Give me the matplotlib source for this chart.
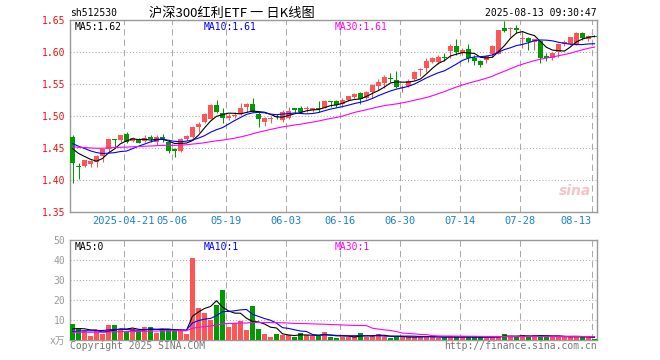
#Sina style daily K-line chart for 512530 with volume panel

import numpy as np
import pandas as pd
import matplotlib.pyplot as plt

plt.rcParams['font.family'] = ['DejaVu Sans Mono', 'Noto Sans CJK SC']

#date axis
date_labels = ['2025-04-21', '05-06', '05-19', '06-03', '06-16', '06-30', '07-14', '07-28', '08-13']
date_index = [9, 17, 26, 36, 45, 55, 65, 75, 87]

#candles (Apr 8 .. Aug 13)
opens = [1.4667, 1.4220, 1.4224, 1.4250, 1.4276, 1.4380, 1.4484, 1.4636, 1.4625, 1.4719,
         1.4615, 1.4640, 1.4615, 1.4677, 1.4599, 1.4677, 1.4589, 1.4484, 1.4458, 1.4641,
         1.4677, 1.4823, 1.4911, 1.4948, 1.5172, 1.5041, 1.4963, 1.5000, 1.5026, 1.5146,
         1.5182, 1.5026, 1.4911, 1.4953, 1.4995, 1.4938, 1.4974, 1.5125, 1.5125, 1.5104,
         1.5094, 1.5120, 1.5120, 1.5229, 1.5240, 1.5182, 1.5250, 1.5302, 1.5354, 1.5276,
         1.5370, 1.5469, 1.5511, 1.5589, 1.5563, 1.5443, 1.5469, 1.5578, 1.5719, 1.5745,
         1.5849, 1.5849, 1.5927, 1.6016, 1.6094, 1.5979, 1.6042, 1.5911, 1.5865, 1.5875,
         1.5964, 1.5964, 1.6380, 1.6360, 1.6380, 1.6203, 1.6214, 1.6161, 1.6172, 1.5940,
         1.5911, 1.5995, 1.6120, 1.6120, 1.6120, 1.6292, 1.6203, 1.6255]
highs = [1.4703, 1.4260, 1.4320, 1.4320, 1.4390, 1.4490, 1.4641, 1.4641, 1.4703, 1.4750,
         1.4667, 1.4651, 1.4703, 1.4703, 1.4703, 1.4719, 1.4599, 1.4495, 1.4651, 1.4703,
         1.4844, 1.4900, 1.5041, 1.5182, 1.5250, 1.5120, 1.5026, 1.5068, 1.5198, 1.5198,
         1.5276, 1.5057, 1.4990, 1.5005, 1.5026, 1.5094, 1.5146, 1.5125, 1.5156, 1.5161,
         1.5125, 1.5240, 1.5250, 1.5229, 1.5250, 1.5286, 1.5313, 1.5354, 1.5370, 1.5391,
         1.5500, 1.5573, 1.5641, 1.5667, 1.5708, 1.5484, 1.5573, 1.5708, 1.5745, 1.5911,
         1.5927, 1.5953, 1.5979, 1.6125, 1.6203, 1.6057, 1.6120, 1.5953, 1.5875, 1.5953,
         1.6110, 1.6344, 1.6484, 1.6396, 1.6422, 1.6328, 1.6240, 1.6198, 1.6188, 1.5990,
         1.6005, 1.6135, 1.6188, 1.6240, 1.6307, 1.6318, 1.6266, 1.6266]
lows = [1.3958, 1.4016, 1.4208, 1.4208, 1.4208, 1.4286, 1.4440, 1.4495, 1.4600, 1.4573,
        1.4600, 1.4573, 1.4600, 1.4600, 1.4547, 1.4599, 1.4417, 1.4365, 1.4443, 1.4625,
        1.4625, 1.4755, 1.4885, 1.4948, 1.5041, 1.4885, 1.4937, 1.4963, 1.5016, 1.5057,
        1.5057, 1.4833, 1.4849, 1.4885, 1.4953, 1.4911, 1.4953, 1.5042, 1.5041, 1.5057,
        1.5068, 1.5068, 1.5120, 1.5146, 1.5146, 1.5146, 1.5234, 1.5276, 1.5188, 1.5266,
        1.5276, 1.5406, 1.5432, 1.5536, 1.5432, 1.5370, 1.5458, 1.5562, 1.5630, 1.5693,
        1.5823, 1.5807, 1.5859, 1.5901, 1.5953, 1.5953, 1.5849, 1.5797, 1.5771, 1.5823,
        1.5927, 1.5964, 1.6318, 1.6229, 1.6292, 1.6057, 1.6031, 1.6031, 1.5833, 1.5859,
        1.5875, 1.5927, 1.6099, 1.6110, 1.6110, 1.6188, 1.6172, 1.6229]
closes = [1.4271, 1.4208, 1.4313, 1.4297, 1.4380, 1.4484, 1.4641, 1.4625, 1.4703, 1.4599,
          1.4650, 1.4583, 1.4650, 1.4636, 1.4667, 1.4636, 1.4458, 1.4458, 1.4641, 1.4693,
          1.4833, 1.4875, 1.5026, 1.5172, 1.5068, 1.4963, 1.4995, 1.5010, 1.5130, 1.5182,
          1.5068, 1.4953, 1.4963, 1.4963, 1.4979, 1.5057, 1.5078, 1.5094, 1.5057, 1.5120,
          1.5125, 1.5109, 1.5240, 1.5219, 1.5172, 1.5250, 1.5313, 1.5339, 1.5260, 1.5370,
          1.5484, 1.5537, 1.5615, 1.5573, 1.5460, 1.5458, 1.5547, 1.5693, 1.5734, 1.5859,
          1.5901, 1.5927, 1.5911, 1.6094, 1.5995, 1.6031, 1.5900, 1.5865, 1.5797, 1.5938,
          1.6094, 1.6344, 1.6328, 1.6370, 1.6344, 1.6208, 1.6161, 1.6198, 1.5900, 1.5900,
          1.5990, 1.6120, 1.6161, 1.6229, 1.6292, 1.6214, 1.6255, 1.6234]
#volume, 10k
volumes = [8.0, 5.8, 4.5, 2.0, 4.6, 3.1, 7.5, 7.5, 5.1, 4.2,
           5.6, 4.4, 6.4, 6.4, 3.5, 5.2, 5.4, 5.0, 5.0, 3.1,
           41.0, 16.0, 13.7, 10.0, 17.5, 25.0, 6.5, 8.3, 9.6, 5.0,
           17.0, 5.4, 3.0, 1.6, 3.0, 2.5, 2.5, 1.6, 3.4, 2.5,
           2.0, 2.0, 4.2, 1.3, 1.0, 1.7, 1.6, 1.8, 3.7, 1.7,
           1.8, 3.0, 1.7, 1.2, 1.3, 1.6, 1.7, 1.5, 1.7, 1.8,
           1.6, 1.2, 1.3, 1.8, 1.5, 1.6, 1.4, 1.3, 1.5, 1.6,
           1.7, 1.8, 3.2, 1.6, 1.4, 2.5, 1.5, 2.5, 2.5, 1.4,
           1.6, 1.7, 1.7, 1.6, 1.7, 1.3, 1.6, 0.5]

#earlier sessions (not drawn), estimated so the averages start where the lines start
prev_closes = [1.440, 1.445, 1.450, 1.452, 1.448, 1.446, 1.450, 1.455, 1.452, 1.449,
               1.447, 1.451, 1.454, 1.450, 1.448, 1.446, 1.449, 1.452, 1.453, 1.448,
               1.463, 1.466, 1.468, 1.464, 1.464, 1.458, 1.455, 1.452, 1.453]
prev_volumes = [3.5, 3.8, 3.2, 4.0, 3.6, 3.4, 3.9, 3.7, 3.3, 3.6,
                3.8, 3.5, 3.4, 3.9, 3.6, 3.7, 3.5, 3.8, 3.6, 3.2,
                2.8, 3.1, 2.6, 3.0, 3.0, 4.6, 5.2, 4.8, 4.9]

o = np.array(opens)
h = np.array(highs)
l = np.array(lows)
c = np.array(closes)
v = np.array(volumes)
x = np.arange(len(c))

s_close = pd.Series(prev_closes + closes)
s_vol = pd.Series(prev_volumes + volumes)
n_prev = len(prev_closes)
ma_price = {w: s_close.rolling(w).mean().values[n_prev:] for w in (5, 10, 30)}
ma_vol = {w: s_vol.rolling(w).mean().values[n_prev:] for w in (5, 10, 30)}

RED = '#ff5555'
GREEN = '#009900'
colors = np.where(c >= o, RED, GREEN)
ma_colors = {5: 'black', 10: '#0000ff', 30: '#ff00ff'}

W, H = 660, 360
fig = plt.figure(figsize=(W / 100, H / 100), dpi=100)
ax = fig.add_axes([70 / W, 1 - 212 / H, 527 / W, 192 / H])
axv = fig.add_axes([70 / W, 1 - 340 / H, 527 / W, 100 / H])

#price panel
ax.vlines(x, l, h, colors=colors, lw=0.75, zorder=3)
body = np.maximum(np.abs(c - o), 0.0016)
ax.bar(x, body, bottom=np.minimum(o, c), width=0.83, color=colors, lw=0, zorder=3)
for w in (5, 10, 30):
    ax.plot(x, ma_price[w], color=ma_colors[w], lw=0.8, zorder=4)

#volume panel
axv.bar(x, v, width=0.83, color=colors, lw=0, zorder=3)
for w in (5, 10, 30):
    axv.plot(x, ma_vol[w], color=ma_colors[w], lw=0.8, zorder=4)

grid_x = np.array(date_index) - 0.417
for a in (ax, axv):
    a.set_xlim(-0.417, 87.417)
    a.set_xticks(grid_x)
    a.tick_params(length=0)
    for sp in a.spines.values():
        sp.set_color('#999999')
        sp.set_linewidth(1.0)
    a.xaxis.grid(True, linestyle=(0, (6, 4)), color='#aaaaaa', lw=0.75)
    a.yaxis.grid(True, linestyle=(0, (1, 2)), color='#aaaaaa', lw=0.75)
    a.set_axisbelow(True)

ax.set_ylim(1.35, 1.65)
ax.set_yticks([1.35, 1.40, 1.45, 1.50, 1.55, 1.60, 1.65])
ax.set_yticklabels(['1.35', '1.40', '1.45', '1.50', '1.55', '1.60', '1.65'])
ax.tick_params(axis='y', labelcolor='#ee1111', labelsize=7, pad=3.5)
ax.set_xticklabels(date_labels)
ax.tick_params(axis='x', labelcolor='#1a80d0', labelsize=7.5, pad=3)
last = ax.get_xticklabels()[-1]
last.set_horizontalalignment('right')

axv.set_ylim(0, 50)
axv.set_yticks([0, 10, 20, 30, 40, 50])
axv.set_yticklabels(['x万', '10', '20', '30', '40', '50'])
axv.tick_params(axis='y', labelcolor='#999999', labelsize=7, pad=3.5)
axv.set_xticklabels([])

def px(xp, yp):
    return xp / W, 1 - yp / H

fig.text(*px(70, 13), 'sh512530', va='center', fontsize=7)
fig.text(*px(232, 13), '沪深300红利ETF 一 日K线图', ha='center', va='center', fontsize=9.5,
         family=['Noto Sans CJK SC', 'DejaVu Sans'])
fig.text(*px(597, 13), '2025-08-13 09:30:47', ha='right', va='center', fontsize=7)

fig.text(*px(75, 27), 'MA5:1.62', va='center', fontsize=7, color='black')
fig.text(*px(204, 27), 'MA10:1.61', va='center', fontsize=7, color='#0000ff')
fig.text(*px(335, 27), 'MA30:1.61', va='center', fontsize=7, color='#ff00ff')

fig.text(*px(75, 247), 'MA5:0', va='center', fontsize=7, color='black')
fig.text(*px(204, 247), 'MA10:1', va='center', fontsize=7, color='#0000ff')
fig.text(*px(335, 247), 'MA30:1', va='center', fontsize=7, color='#ff00ff')

fig.text(*px(70, 346), 'Copyright 2025 SINA.COM', va='center', fontsize=7, color='#777777')
fig.text(*px(597, 346), 'http://finance.sina.com.cn', ha='right', va='center', fontsize=7, color='#777777')

#watermark
fig.text(*px(575, 191), 'sina', ha='center', va='center', fontsize=10, style='italic',
         weight='bold', color='#f5c4c4', family='DejaVu Sans')

fig.savefig('out.png', dpi=100)
